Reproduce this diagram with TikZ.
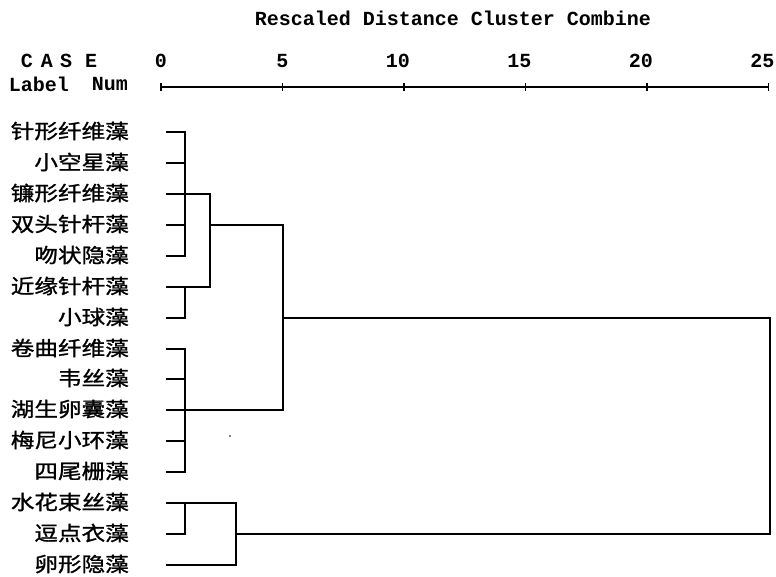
\documentclass[tikz,border=0pt]{standalone}
\usepackage{fontspec}
\newfontfamily\cjkf[FakeStretch=1.18,FakeBold=1.2]{Noto Sans CJK SC}
\newfontfamily\monof{Liberation Mono}
\tikzset{
  monotxt/.style={inner sep=0pt, font=\monof\bfseries\fontsize{20}{22}\selectfont},
  leaflabel/.style={inner sep=0pt, anchor=east, font=\cjkf\fontsize{20}{22}\selectfont},
  tree/.style={line width=2.3pt, line cap=rect},
  axisline/.style={line width=1.5pt},
}
\begin{document}
\begin{tikzpicture}[x=1pt,y=-1pt]
\useasboundingbox (0,0) rectangle (776,576);
% header
\node[monotxt] (title) at (453,18) {Rescaled Distance Cluster Combine};
\node[monotxt] (cC) at (27,61) {C};
\node[monotxt] (cA) at (47,61) {A};
\node[monotxt] (cS) at (66,61) {S};
\node[monotxt] (cE) at (91,61) {E};
\node[monotxt] (lab) at (39,84) {Label};
\node[monotxt] (num) at (110,84) {Num};
% axis
\coordinate (ax0) at (161,87);
\coordinate (ax25) at (768.5,87);
\draw[axisline] (ax0) -- (ax25);
\foreach \v/\t in {0/0,5/5,10/10,15/15,20/20,25/25}{
  \coordinate (tk\v) at ({161+24.3*\v},87);
  \draw[axisline] ([yshift=4pt]tk\v) -- ([yshift=-4pt]tk\v);
  \node[monotxt, anchor=east] (n\v) at ([xshift=6pt,yshift=26pt]tk\v) {\t};
}
% leaves
\foreach \i/\y/\t in {1/132/针形纤维藻,2/163/小空星藻,3/194/镰形纤维藻,4/225/双头针杆藻,5/256/吻状隐藻,6/287/近缘针杆藻,7/318/小球藻,8/349/卷曲纤维藻,9/379/韦丝藻,10/410/湖生卵囊藻,11/441/梅尼小环藻,12/472/四尾栅藻,13/503/水花束丝藻,14/534/逗点衣藻,15/565/卵形隐藻}{
  \node[leaflabel] (L\i) at (129,\y-1) {\t};
  \coordinate (r\i) at (167,\y);
}
% merge levels
\coordinate (ma) at (185,0);
\coordinate (mb) at (210,0);
\coordinate (mc) at (236,0);
\coordinate (md) at (283,0);
\coordinate (me) at (770,0);
% cluster 1-5
\foreach \i in {1,2,4,5}{\draw[tree] (r\i) -- (r\i -| ma);}
\draw[tree] (r1 -| ma) -- (r5 -| ma);
\draw[tree] (r3) -- (r3 -| mb);
% cluster 6-7
\draw[tree] (r6) -- (r6 -| mb);
\draw[tree] (r7) -- (r7 -| ma) -- (r6 -| ma);
\draw[tree] (r3 -| mb) -- (r6 -| mb);
\draw[tree] (r4 -| mb) -- (r4 -| md);
% cluster 8-12
\foreach \i in {8,9,11,12}{\draw[tree] (r\i) -- (r\i -| ma);}
\draw[tree] (r8 -| ma) -- (r12 -| ma);
\draw[tree] (r10) -- (r10 -| md);
\draw[tree] (r4 -| md) -- (r10 -| md);
\draw[tree] (r7 -| md) -- (r7 -| me);
% cluster 13-15
\draw[tree] (r13) -- (r13 -| mc);
\draw[tree] (r14) -- (r14 -| ma) -- (r13 -| ma);
\draw[tree] (r15) -- (r15 -| mc);
\draw[tree] (r13 -| mc) -- (r15 -| mc);
\draw[tree] (r14 -| mc) -- (r14 -| me);
\draw[tree] (r7 -| me) -- (r14 -| me);
% speck
\fill (230,436) circle (0.9pt);
\end{tikzpicture}
\end{document}
